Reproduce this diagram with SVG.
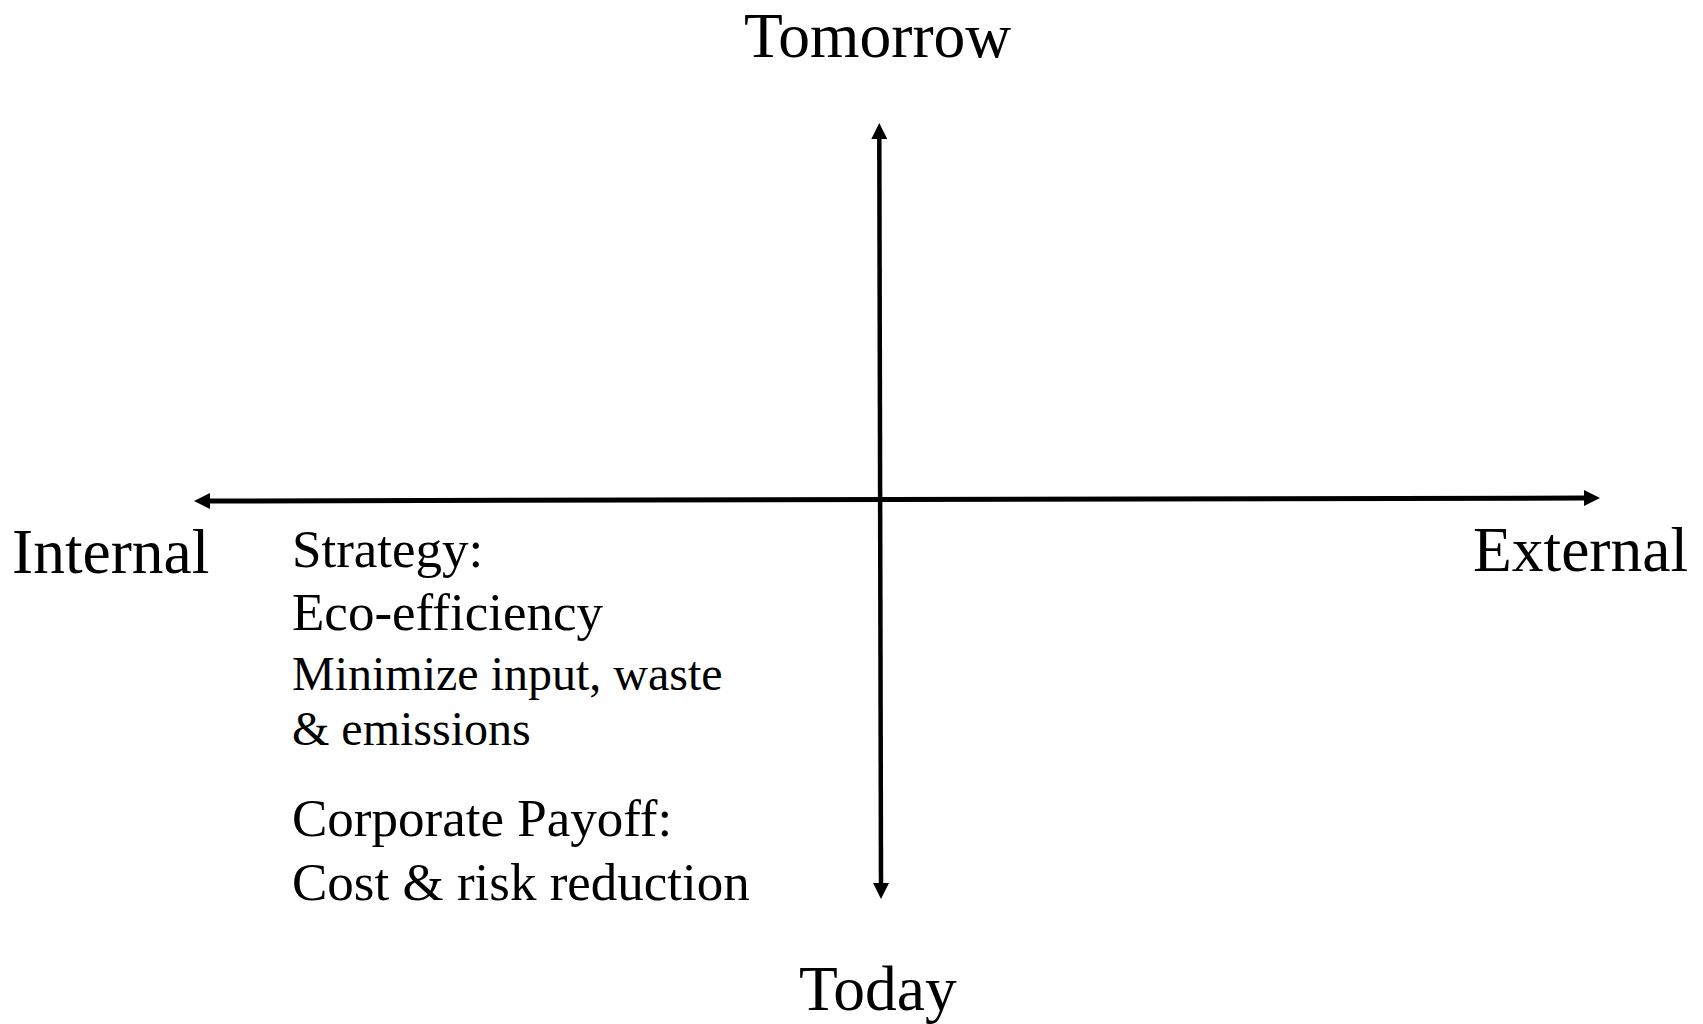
<svg xmlns="http://www.w3.org/2000/svg" width="1703" height="1024" viewBox="0 0 1703 1024">
<style>
.t{font-family:"Liberation Serif","Times New Roman",serif;fill:#000}
.ax{stroke:#000;fill:none}
</style>
<defs>
<marker id="ah" markerUnits="userSpaceOnUse" markerWidth="16" markerHeight="16" refX="0" refY="8" orient="auto-start-reverse" viewBox="0 0 16 16">
<path d="M0,0 L16,8 L0,16 z" fill="#000"/>
</marker>
</defs>
<rect width="1703" height="1024" fill="#fff"/>
<g id="connectors">
<line class="ax" x1="210" y1="501" x2="1584" y2="498" stroke-width="5" marker-start="url(#ah)" marker-end="url(#ah)"/>
<line class="ax" x1="879.3" y1="139" x2="881" y2="883" stroke-width="4.5" marker-start="url(#ah)" marker-end="url(#ah)"/>
</g>
<g id="tomorrow"><text class="t" x="744" y="56.5" font-size="63.5">Tomorrow</text></g>
<g id="today"><text class="t" x="799" y="1010" font-size="63.5">Today</text></g>
<g id="internal"><text class="t" x="12" y="573" font-size="63.5">Internal</text></g>
<g id="external"><text class="t" x="1473" y="571" font-size="63.5">External</text></g>
<g id="quadrant-text">
<text class="t" x="292" y="567" font-size="53">Strategy:</text>
<text class="t" x="292" y="630" font-size="53">Eco-efficiency</text>
<text class="t" x="292" y="690" font-size="48">Minimize input, waste</text>
<text class="t" x="292" y="745" font-size="48">&amp; emissions</text>
<text class="t" x="292" y="836" font-size="53">Corporate Payoff:</text>
<text class="t" x="292" y="900" font-size="53">Cost &amp; risk reduction</text>
</g>
</svg>
